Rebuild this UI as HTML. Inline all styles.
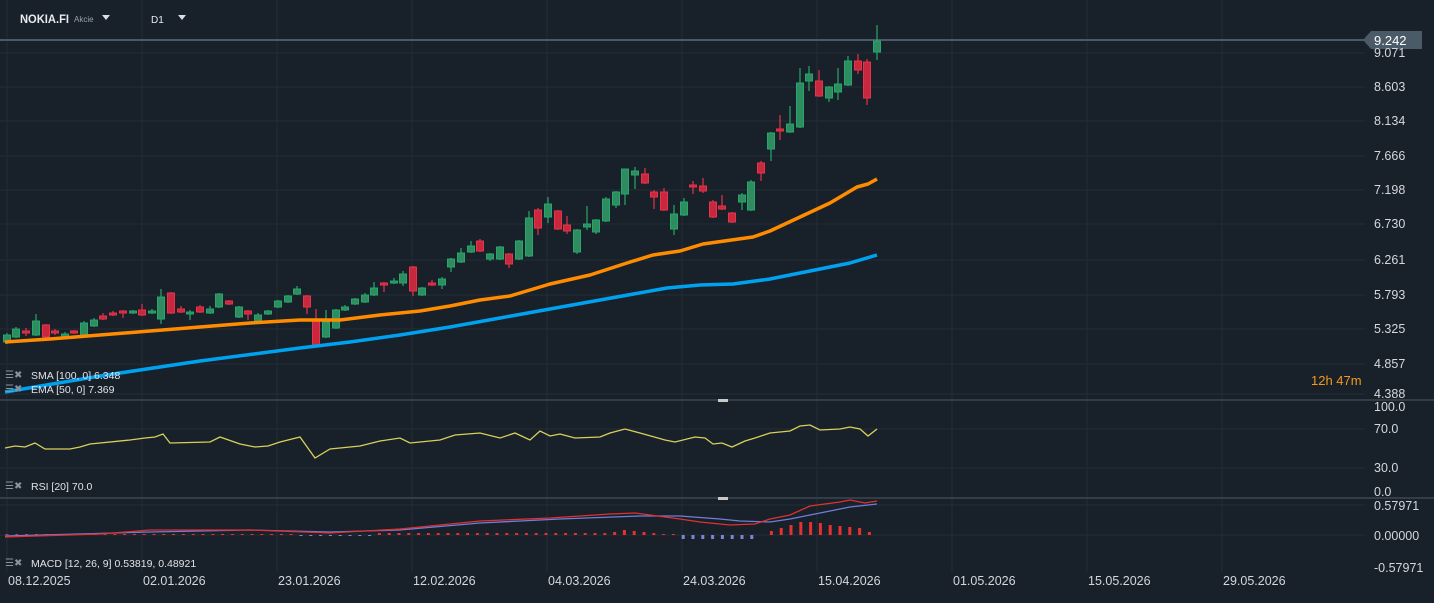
<!DOCTYPE html>
<html><head><meta charset="utf-8"><style>
html,body{margin:0;padding:0;background:#18202a;}
body{width:1434px;height:598px;overflow:hidden;font-family:"Liberation Sans",sans-serif;}
svg text{font-family:"Liberation Sans",sans-serif;}
</style></head><body>
<svg id="s" width="1434" height="598" xmlns="http://www.w3.org/2000/svg">
<rect width="1434" height="598" fill="#18202a"/>
<g id="grid" stroke="#232d37" stroke-width="1"></g>
<line x1="0" y1="400" x2="1434" y2="400" stroke="#3c4752" stroke-width="1.5"/>
<line x1="0" y1="498" x2="1434" y2="498" stroke="#3c4752" stroke-width="1.5"/>
<rect x="718" y="399" width="10" height="3" fill="#c8c8c8"/>
<rect x="718" y="497" width="10" height="3" fill="#c8c8c8"/>
<line x1="0" y1="40" x2="1365" y2="40" stroke="#4a5a68" stroke-width="2"/>
<polygon points="1363,40 1371,31 1422,31 1422,49 1371,49" fill="#4a5a66"/>
<text x="1374" y="45" fill="#fff" font-size="13">9.242</text>
<g id="ax" fill="#d4d8dc" font-size="12.5"></g>
<g id="c"></g>
<polyline id="ema" fill="none" stroke="#ff8c00" stroke-width="3.5" stroke-linejoin="round"/>
<polyline id="sma" fill="none" stroke="#00a2f0" stroke-width="3.5" stroke-linejoin="round"/>
<polyline id="rsi" fill="none" stroke="#d8d05a" stroke-width="1.3"/>
<g id="h"></g>
<polyline id="sig" fill="none" stroke="#6f7ed8" stroke-width="1.3"/>
<polyline id="macd" fill="none" stroke="#e03030" stroke-width="1.3"/>
<text x="20" y="23" fill="#e8eaec" font-size="12" font-weight="bold" textLength="49" lengthAdjust="spacingAndGlyphs">NOKIA.FI</text>
<text x="74" y="22" fill="#9aa3ab" font-size="8">Akcie</text>
<polygon points="102,15 110,15 106,20" fill="#ddd"/>
<text x="151" y="23" fill="#e8eaec" font-size="10">D1</text>
<polygon points="178,15 186,15 182,20" fill="#ddd"/>
<g fill="#e0e3e6" font-size="10.5">
<text x="31" y="379">SMA [100, 0] 6.348</text>
<text x="31" y="393">EMA [50, 0] 7.369</text>
<text x="31" y="490">RSI [20] 70.0</text>
<text x="31" y="567">MACD [12, 26, 9] 0.53819, 0.48921</text>
</g>
<g fill="#8a939b" font-size="10">
<text x="5" y="378">☰✖</text><text x="5" y="392">☰✖</text><text x="5" y="489">☰✖</text><text x="5" y="566">☰✖</text>
</g>
<text x="1311" y="385" fill="#f29a1a" font-size="13">12h 47m</text>
</svg>
<script>
const NS="http://www.w3.org/2000/svg";
function el(p,t,a){const e=document.createElementNS(NS,t);for(const k in a)e.setAttribute(k,a[k]);document.getElementById(p).appendChild(e);return e;}
const hy=[53,87,121,156,190,224,260,295,329,364,394,429,468,505,535];
hy.forEach(y=>el('grid','line',{x1:0,y1:y,x2:1365,y2:y}));
for(let i=0;i<10;i++){const x=7+135*i;el('grid','line',{x1:x,y1:0,x2:x,y2:572});}
const lab=[["9.071",57],["8.603",91],["8.134",125],["7.666",160],["7.198",194],["6.730",228],["6.261",264],["5.793",299],["5.325",333],["4.857",368],["4.388",398],["100.0",411],["70.0",433],["30.0",472],["0.0",496],["0.57971",510],["0.00000",540],["-0.57971",572]];
lab.forEach(l=>{const t=el('ax','text',{x:1374,y:l[1]});t.textContent=l[0];});
const d=["08.12.2025","02.01.2026","23.01.2026","12.02.2026","04.03.2026","24.03.2026","15.04.2026","01.05.2026","15.05.2026","29.05.2026"];
d.forEach((s,i)=>{const t=el('ax','text',{x:8+135*i,y:585});t.textContent=s;});
const C=[[7,335,342,333,344,1],[16,329,337,327,338,1],[26,331,333,328,336,0],[36,321,335,314,336,1],[46,325,337,324,338,0],[55,331,333,329,335,0],[65,334,337,332,339,1],[74,331,333,330,334,0],[84,323,335,321,336,1],[94,320,326,318,327,1],[103,316,319,313,320,0],[113,313,315,311,316,0],[123,311,313,310,318,0],[133,311,313,310,314,1],[142,310,315,304,316,0],[152,311,313,309,314,1],[161,297,319,289,324,1],[171,293,313,292,314,0],[181,309,312,306,313,0],[190,312,314,310,320,1],[200,307,312,305,313,0],[210,309,313,306,314,1],[219,294,307,293,308,1],[229,301,304,300,305,0],[239,307,317,306,318,1],[248,311,314,310,320,0],[258,315,321,313,322,1],[268,311,314,310,315,1],[278,301,307,300,308,1],[288,296,302,295,303,1],[297,289,294,286,295,1],[307,296,307,295,314,0],[316,320,345,309,346,0],[326,322,337,310,338,1],[336,310,328,309,329,1],[345,307,310,305,311,1],[355,299,304,298,305,1],[365,295,302,293,303,1],[374,288,295,282,296,1],[384,283,285,282,292,0],[394,281,283,278,284,1],[403,274,283,271,286,1],[413,267,291,266,296,0],[422,288,295,287,296,1],[432,283,285,280,286,0],[442,279,285,277,289,1],[451,259,267,258,272,1],[461,253,262,248,263,1],[471,246,252,241,253,1],[480,241,251,239,252,0],[490,254,259,253,261,1],[500,247,259,246,260,1],[509,254,264,253,268,0],[519,241,259,240,260,1],[529,218,256,211,257,1],[538,210,228,208,235,0],[548,204,217,197,223,1],[558,211,229,210,230,0],[567,225,231,216,234,0],[577,230,252,229,254,1],[587,224,227,206,230,1],[596,220,232,219,234,1],[606,199,221,197,222,1],[616,192,205,191,208,1],[625,169,194,169,205,1],[635,171,175,167,189,1],[645,174,183,168,184,0],[654,192,197,190,209,0],[664,192,210,188,211,0],[674,214,229,205,235,1],[684,202,215,198,216,1],[693,185,187,181,194,0],[703,186,191,178,193,0],[713,202,217,200,218,0],[722,206,209,195,210,0],[732,213,222,212,223,0],[742,195,202,193,210,1],[751,182,210,180,211,1],[761,163,173,161,181,0],[771,133,149,132,161,1],[780,129,131,115,140,0],[790,124,132,106,133,1],[800,83,127,68,128,1],[809,74,81,66,91,1],[819,81,96,70,97,0],[829,87,98,86,102,1],[838,84,92,68,100,1],[848,61,85,56,86,1],[858,61,70,54,74,0],[867,62,98,59,105,0],[877,41,52,25,60,1]];
C.forEach(c=>{const col=c[5]?"#26a86a":"#e8334a",fill=c[5]?"#2e8c60":"#c8283e";
el('c','line',{x1:c[0],y1:c[3],x2:c[0],y2:c[4],stroke:col,'stroke-width':1.2});
el('c','rect',{x:c[0]-3.5,y:c[1],width:7,height:Math.max(2,c[2]-c[1]),fill:fill,stroke:col,'stroke-width':1});});
const pts=a=>a.map(p=>p.join(",")).join(" ");
document.getElementById('ema').setAttribute('points',pts([[5,342],[50,339],[100,335],[150,331],[200,327],[250,323],[300,320],[340,320],[380,315],[420,311],[450,306],[480,300],[510,296],[550,284],[590,275],[627,263],[653,255],[680,251],[703,244],[753,237],[770,231],[800,217],[830,203],[857,187],[868,184],[877,179]]));
document.getElementById('sma').setAttribute('points',pts([[5,392],[100,376],[200,361],[300,348],[350,342],[400,335],[450,327],[500,318],[550,309],[600,300],[667,288],[700,285],[733,284],[770,279],[800,273],[850,263],[877,255]]));
document.getElementById('rsi').setAttribute('points',pts([[5,448],[15,446],[25,447],[35,443],[45,449],[70,449],[80,447],[90,444],[130,440],[145,438],[155,437],[163,434],[170,443],[210,442],[220,437],[240,444],[255,447],[268,446],[280,442],[300,437],[315,458],[330,449],[360,446],[380,441],[400,438],[410,443],[440,440],[455,435],[480,433],[500,438],[515,433],[530,440],[540,431],[550,436],[560,434],[575,438],[600,437],[610,433],[625,429],[640,433],[665,440],[675,442],[695,437],[705,438],[713,444],[722,443],[732,447],[745,441],[755,438],[770,433],[790,431],[800,426],[810,425],[820,430],[840,429],[850,427],[860,429],[868,436],[877,429]]));
document.getElementById('macd').setAttribute('points',pts([[5,537],[100,534],[150,530],[250,530],[330,533],[400,529],[480,521],[550,518],[610,514],[635,513],[680,519],[700,522],[730,525],[755,524],[770,519],[790,515],[810,506],[840,502],[850,500],[865,503],[877,501]]));
document.getElementById('sig').setAttribute('points',pts([[5,536],[150,532],[250,530],[330,532],[400,530],[480,523],[560,519],[640,516],[680,516],[720,519],[740,521],[770,522],[790,519],[810,515],[830,511],[850,507],[877,504]]));
for(let x=7;x<=877;x+=9.8){let v;
 if(x<300)v=1;else if(x<370)v=-1;else if(x<660)v=(x<600?2:4);else if(x<675)v=1;else if(x<755)v=-4;else if(x<770)v=0;else{const t=[4,7,10,13,13,12,10,9,8,7,3,4];v=t[Math.min(11,Math.round((x-770)/9.8))];}
 if(x>=600&&x<660)v=[2,3,5,4,3,2][Math.round((x-600)/9.8)]||2;
 if(v===0)continue;
 if(v>0)el('h','rect',{x:x-1.5,y:535-v,width:3,height:v,fill:"#e83030"});
 else el('h','rect',{x:x-1.5,y:535,width:3,height:-v,fill:"#7b86d6"});}
</script>
</body></html>
